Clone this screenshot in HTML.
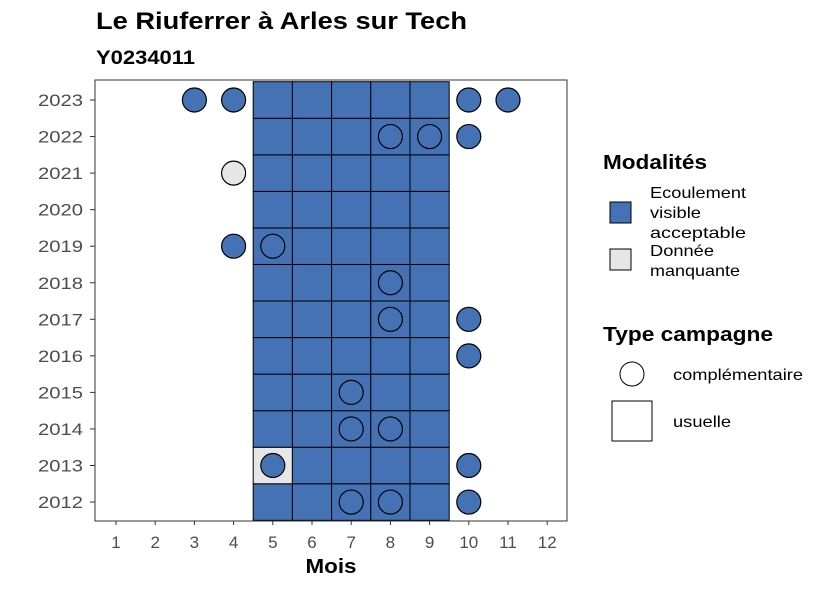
<!DOCTYPE html>
<html><head><meta charset="utf-8"><style>
body{margin:0;background:#fff;font-family:"Liberation Sans",sans-serif}
svg text{font-family:"Liberation Sans",sans-serif}
</style></head><body>
<svg id="chart" width="826" height="590" xmlns="http://www.w3.org/2000/svg">
<text x="96" y="29" font-size="24" font-weight="bold" textLength="371" lengthAdjust="spacingAndGlyphs">Le Riuferrer à Arles sur Tech</text>
<text x="96" y="64" font-size="19" font-weight="bold" textLength="99" lengthAdjust="spacingAndGlyphs">Y0234011</text>
<g id="tiles"></g><g id="circles"></g>
<rect x="95" y="80" width="472" height="441" fill="none" stroke="#333" stroke-width="1"/>
<g id="axes" font-size="17" fill="#4d4d4d"></g>
<text x="331" y="573" font-size="20" font-weight="bold" text-anchor="middle" textLength="51" lengthAdjust="spacingAndGlyphs">Mois</text>
<g>
<text x="603" y="169" font-size="20" font-weight="bold" textLength="104" lengthAdjust="spacingAndGlyphs">Modalités</text>
<rect x="610" y="202" width="21" height="21" fill="#4472b4" stroke="#000"/>
<text font-size="16"><tspan x="650" y="198" textLength="96" lengthAdjust="spacingAndGlyphs">Ecoulement</tspan><tspan x="650" y="218" textLength="51" lengthAdjust="spacingAndGlyphs">visible</tspan><tspan x="650" y="238" textLength="96" lengthAdjust="spacingAndGlyphs">acceptable</tspan></text>
<rect x="610" y="249" width="21" height="21" fill="#e6e6e6" stroke="#000"/>
<text font-size="16"><tspan x="650" y="256" textLength="64" lengthAdjust="spacingAndGlyphs">Donnée</tspan><tspan x="650" y="276" textLength="90" lengthAdjust="spacingAndGlyphs">manquante</tspan></text>
<text x="603" y="341" font-size="20" font-weight="bold" textLength="170" lengthAdjust="spacingAndGlyphs">Type campagne</text>
<circle cx="632" cy="374" r="12" fill="#fff" stroke="#000"/>
<text x="673" y="380" font-size="16" textLength="130" lengthAdjust="spacingAndGlyphs">complémentaire</text>
<rect x="612" y="401" width="40" height="40" fill="#fff" stroke="#000"/>
<text x="673" y="427" font-size="16" textLength="58" lengthAdjust="spacingAndGlyphs">usuelle</text>
</g>
</svg>
<script>
const months=[1,2,3,4,5,6,7,8,9,10,11,12];
const years=[2012,2013,2014,2015,2016,2017,2018,2019,2020,2021,2022,2023];
const tileYears=[2012,2013,2014,2015,2016,2017,2018,2019,2020,2021,2022,2023];
const tileMonths=[5,6,7,8,9];
const missingTiles=[[2013,5]];
const circleYears=[2023,2023,2023,2023,2022,2022,2022,2021,2019,2019,2018,2017,2017,2016,2015,2014,2014,2013,2013,2012,2012,2012];
const circleMonths=[3,4,10,11,8,9,10,4,4,5,8,8,10,10,7,7,8,5,10,7,8,10];
const circleMissing=[0,0,0,0,0,0,0,1,0,0,0,0,0,0,0,0,0,0,0,0,0,0];
const NS="http://www.w3.org/2000/svg";
const xs=m=>116+(m-1)*39.2;
const ys=y=>100+(2023-y)*36.55;
const BLUE="#4472b4",GREY="#e6e6e6";
const tg=document.getElementById('tiles');
tileYears.forEach(y=>tileMonths.forEach(m=>{
 const miss=missingTiles.some(t=>t[0]===y&&t[1]===m);
 const r=document.createElementNS(NS,'rect');
 r.setAttribute('x',xs(m)-19.6);r.setAttribute('y',ys(y)-18.275);
 r.setAttribute('width',39.2);r.setAttribute('height',36.55);
 r.setAttribute('fill',miss?GREY:BLUE);r.setAttribute('stroke','#000');
 
 
 tg.appendChild(r);
}));
const cg=document.getElementById('circles');
circleYears.forEach((y,i)=>{
 const c=document.createElementNS(NS,'circle');
 c.setAttribute('cx',xs(circleMonths[i]));c.setAttribute('cy',ys(y));c.setAttribute('r',12);
 c.setAttribute('fill',circleMissing[i]?GREY:BLUE);c.setAttribute('stroke','#000');c.setAttribute('stroke-width','1.2');
 
 
 cg.appendChild(c);
});
const ag=document.getElementById('axes');
months.forEach(m=>{
 const l=document.createElementNS(NS,'line');
 l.setAttribute('x1',xs(m));l.setAttribute('x2',xs(m));l.setAttribute('y1',521);l.setAttribute('y2',525);l.setAttribute('stroke','#333');
 
 
 ag.appendChild(l);
 const t=document.createElementNS(NS,'text');
 t.setAttribute('x',xs(m));t.setAttribute('y',548);t.setAttribute('text-anchor','middle');t.textContent=m;
 
 
 ag.appendChild(t);
});
years.forEach(y=>{
 const l=document.createElementNS(NS,'line');
 l.setAttribute('x1',90);l.setAttribute('x2',95);l.setAttribute('y1',ys(y));l.setAttribute('y2',ys(y));l.setAttribute('stroke','#333');
 
 
 ag.appendChild(l);
 const t=document.createElementNS(NS,'text');
 t.setAttribute('x',38);t.setAttribute('y',ys(y)+6);t.setAttribute('textLength',45);t.setAttribute('lengthAdjust','spacingAndGlyphs');t.textContent=y;
 
 
 ag.appendChild(t);
});
</script>
</body></html>
